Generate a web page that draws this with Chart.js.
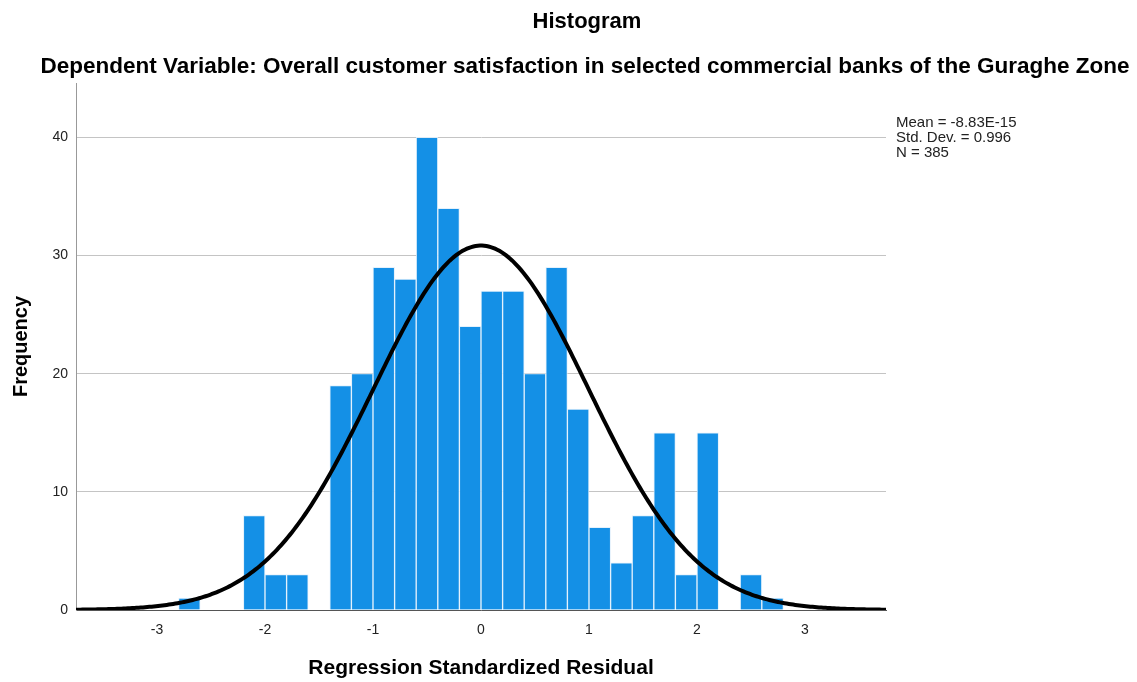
<!DOCTYPE html>
<html>
<head>
<meta charset="utf-8">
<title>Histogram</title>
<script src="https://cdn.jsdelivr.net/npm/chart.js@4/dist/chart.umd.min.js"></script>
<style>
  html, body { margin: 0; padding: 0; background: #ffffff; }
  #wrap { width: 1137px; height: 682px; }
</style>
</head>
<body>
<div id="wrap"><canvas id="hist" width="1137" height="682"></canvas></div>
<script>
// Histogram bins (left edges) of the regression standardized residuals, width 0.2
const binStarts = [-2.8, -2.6, -2.4, -2.2, -2.0, -1.8, -1.6, -1.4, -1.2, -1.0, -0.8, -0.6, -0.4, -0.2,
                   0.0, 0.2, 0.4, 0.6, 0.8, 1.0, 1.2, 1.4, 1.6, 1.8, 2.0, 2.2, 2.4, 2.6];
const binCounts = [1, 0, 0, 8, 3, 3, 0, 19, 20, 29, 28, 40, 34, 24,
                   27, 27, 20, 29, 17, 7, 4, 8, 15, 3, 15, 0, 3, 1];
const binWidth = 0.2;

// Summary statistics shown beside the plot
const statMean = -8.83e-15;
const statSD = 0.996;
const statN = 385;
const statLines = ['Mean = -8.83E-15', 'Std. Dev. = 0.996', 'N = 385'];

// Axis ticks
const xTicks = [-3, -2, -1, 0, 1, 2, 3];
const yTicks = [0, 10, 20, 30, 40];

const titleText = 'Histogram';
const subtitleText = 'Dependent Variable: Overall customer satisfaction in selected commercial banks of the Guraghe Zone';
const xTitle = 'Regression Standardized Residual';
const yTitle = 'Frequency';

const FONT = 'Arial, "Liberation Sans", sans-serif';

// Bars placed at bin centres
const barData = [];
binStarts.forEach((s, i) => {
  if (binCounts[i] > 0) barData.push({ x: +(s + binWidth / 2).toFixed(2), y: binCounts[i] });
});

// Fitted normal curve scaled to counts: N * width * pdf(x)
const curveData = [];
for (let k = -375; k <= 375; k += 2) {
  const x = k / 100;
  const z = (x - statMean) / statSD;
  const y = statN * binWidth * Math.exp(-0.5 * z * z) / (statSD * Math.sqrt(2 * Math.PI));
  curveData.push({ x, y });
}

// Titles and the statistics block are painted in the padding around the plot
const annotations = {
  id: 'annotations',
  afterDraw(chart) {
    const ctx = chart.ctx;
    ctx.save();
    ctx.fillStyle = '#000000';
    ctx.textAlign = 'center';
    ctx.textBaseline = 'alphabetic';
    ctx.font = 'bold 22px ' + FONT;
    ctx.fillText(titleText, 587, 28);
    ctx.font = 'bold 22.5px ' + FONT;
    ctx.fillText(subtitleText, 585, 73);
    ctx.textAlign = 'left';
    ctx.fillStyle = '#222222';
    ctx.font = '15px ' + FONT;
    statLines.forEach((t, i) => ctx.fillText(t, 896, 127 + i * 15));
    ctx.restore();
  }
};

new Chart(document.getElementById('hist'), {
  data: {
    datasets: [
      {
        type: 'line',
        data: curveData,
        borderColor: '#000000',
        borderWidth: 4,
        pointRadius: 0,
        tension: 0,
        order: 0
      },
      {
        type: 'bar',
        data: barData,
        backgroundColor: '#1490e6',
        borderColor: 'rgba(225,240,252,0.9)',
        borderWidth: 1,
        borderSkipped: 'bottom',
        barPercentage: 1.0,
        categoryPercentage: 1.0,
        grouped: false,
        order: 1
      }
    ]
  },
  options: {
    responsive: false,
    animation: false,
    devicePixelRatio: 1,
    layout: { padding: { top: 83, right: 251, bottom: 0, left: 0 } },
    plugins: { legend: { display: false }, tooltip: { enabled: false }, title: { display: false } },
    scales: {
      x: {
        type: 'linear',
        min: -3.75,
        max: 3.75,
        offset: false,
        afterFit(scale) { scale.height = 72; },
        afterBuildTicks(scale) { scale.ticks = xTicks.map(v => ({ value: v })); },
        ticks: {
          includeBounds: false,
          padding: 12,
          color: '#222222',
          font: { family: FONT, size: 14 },
          callback: v => String(v)
        },
        grid: { display: false, drawTicks: false, offset: false },
        border: { display: true, color: '#555555', width: 1 },
        title: {
          display: true,
          text: xTitle,
          color: '#000000',
          font: { family: FONT, size: 21, weight: 'bold' },
          padding: { top: 0, bottom: 1 }
        }
      },
      y: {
        type: 'linear',
        min: 0,
        max: 44.6,
        afterFit(scale) { scale.width = 76; },
        afterBuildTicks(scale) { scale.ticks = yTicks.map(v => ({ value: v })); },
        ticks: {
          includeBounds: false,
          padding: 8,
          color: '#222222',
          font: { family: FONT, size: 14 },
          callback: v => String(v)
        },
        grid: { color: '#c4c4c4', lineWidth: 1, drawTicks: false },
        border: { display: true, color: '#999999', width: 1 },
        title: {
          display: true,
          text: yTitle,
          color: '#000000',
          font: { family: FONT, size: 20, weight: 'bold' },
          padding: { top: 9, bottom: 0 }
        }
      }
    }
  },
  plugins: [annotations]
});
</script>
</body>
</html>
